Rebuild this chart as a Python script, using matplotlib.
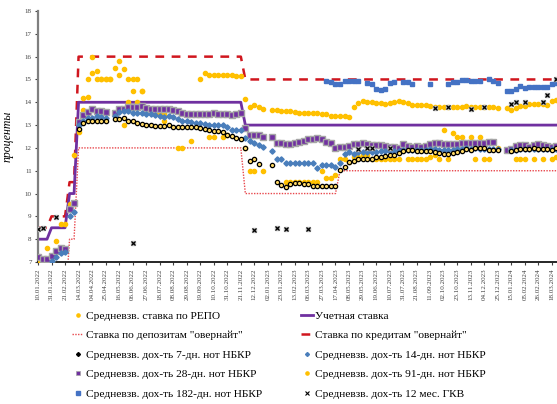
import numpy as np
import pandas as pd
import matplotlib
matplotlib.use("Agg")
import matplotlib.pyplot as plt
from matplotlib.lines import Line2D

nan = np.nan
plt.rcParams['font.family'] = ['Liberation Serif', 'DejaVu Serif']

# weekly observation dates (10.01.2022 ... 25.03.2024)
dates = pd.date_range("2022-01-10", periods=116, freq="7D")

discount = [8, 8, 8, 8.5, 8.5, 8.5, 8.5, 10, 10, 14,
            14, 14, 14, 14, 14, 14, 14, 14, 14, 14,
            14, 14, 14, 14, 14, 14, 14, 14, 14, 14,
            14, 14, 14, 14, 14, 14, 14, 14, 14, 14,
            14, 14, 14, 14, 14, 14, 13, 13, 13, 13,
            13, 13, 13, 13, 13, 13, 13, 13, 13, 13,
            13, 13, 13, 13, 13, 13, 13, 13, 13, 13,
            13, 13, 13, 13, 13, 13, 13, 13, 13, 13,
            13, 13, 13, 13, 13, 13, 13, 13, 13, 13,
            13, 13, 13, 13, 13, 13, 13, 13, 13, 13,
            13, 13, 13, 13, 13, 13, 13, 13, 13, 13,
            13, 13, 13, 13, 13, 13]

credit_on = [8.5, 8.5, 8.5, 9, 9, 9, 9, 10.5, 10.5, 16,
             16, 16, 16, 16, 16, 16, 16, 16, 16, 16,
             16, 16, 16, 16, 16, 16, 16, 16, 16, 16,
             16, 16, 16, 16, 16, 16, 16, 16, 16, 16,
             16, 16, 16, 16, 16, 16, 15, 15, 15, 15,
             15, 15, 15, 15, 15, 15, 15, 15, 15, 15,
             15, 15, 15, 15, 15, 15, 15, 15, 15, 15,
             15, 15, 15, 15, 15, 15, 15, 15, 15, 15,
             15, 15, 15, 15, 15, 15, 15, 15, 15, 15,
             15, 15, 15, 15, 15, 15, 15, 15, 15, 15,
             15, 15, 15, 15, 15, 15, 15, 15, 15, 15,
             15, 15, 15, 15, 15, 15]

deposit_on = [5, 5, 5, 5, 5, 5, 5, 8, 8, 12,
              12, 12, 12, 12, 12, 12, 12, 12, 12, 12,
              12, 12, 12, 12, 12, 12, 12, 12, 12, 12,
              12, 12, 12, 12, 12, 12, 12, 12, 12, 12,
              12, 12, 12, 12, 12, 12, 10, 10, 10, 10,
              10, 10, 10, 10, 10, 10, 10, 10, 10, 10,
              10, 10, 10, 10, 10, 10, 10, 11, 11, 11,
              11, 11, 11, 11, 11, 11, 11, 11, 11, 11,
              11, 11, 11, 11, 11, 11, 11, 11, 11, 11,
              11, 11, 11, 11, 11, 11, 11, 11, 11, 11,
              11, 11, 11, 11, 11, 11, 11, 11, 11, 11,
              11, 11, 11, 11, 11, 11]

repo = [7.0, nan, 7.6, 7.0, 7.93, 8.67, 8.67, 9.53, 11.68, 12.7,
        13.67, 14.25, 16.0, 15.0, 15.0, 15.0, 15.0, 15.52, 15.82, 13.0,
        14.0, 15.0, 14.0, 14.51, nan, nan, nan, 13.5, 13.5, nan,
        nan, 12.0, 12.0, nan, 12.3, nan, nan, nan, 12.5, 12.5,
        nan, 12.5, 12.55, nan, nan, nan, 12.0, 11.0, 11.0, nan,
        11.0, nan, nan, nan, nan, 10.5, 10.5, 10.5, 10.5, 10.5,
        10.5, 10.5, 10.5, 11.0, 10.7, 10.66, 10.83, 11.5, 11.5, 11.4,
        11.62, 11.62, 11.68, 11.69, 11.5, 11.5, 11.5, 11.5, 11.5, 11.5,
        11.5, nan, 11.5, 11.5, 11.5, 11.5, 11.5, 11.6, 11.7, 11.5,
        12.78, 11.5, 12.67, 12.5, 12.5, 12.0, 12.5, 11.5, 12.47, 11.5,
        11.5, nan, 12.0, nan, nan, nan, 11.5, 11.5, 11.5, nan,
        11.5, nan, 11.5, nan, 11.5, 11.6]

n7 = [nan, nan, nan, nan, nan, nan, nan, nan, nan, 12.83,
      13.1, 13.18, 13.2, 13.2, 13.18, 13.18, nan, 13.27, 13.27, 13.3,
      13.2, 13.2, 13.1, 13.04, 13.0, 13.0, 12.98, 12.96, 12.95, 13.0,
      12.93, 12.93, 12.9, 12.9, 12.9, 12.9, 12.88, 12.85, 12.8, 12.75,
      12.72, 12.68, 12.55, 12.52, 12.45, 12.38, 12.01, 11.44, 11.5, 11.31,
      nan, nan, 11.24, 10.51, 10.36, 10.29, 10.4, 10.45, 10.46, 10.42,
      10.4, 10.34, 10.34, 10.34, 10.32, 10.32, 10.32, 11.04, 11.18, 11.37,
      11.42, 11.5, 11.52, 11.52, 11.52, 11.6, 11.62, 11.65, 11.67, 11.69,
      11.77, 11.85, 11.91, 11.91, 11.88, 11.88, 11.87, 11.86, 11.81, 11.78,
      11.74, 11.74, 11.76, 11.8, 11.85, 11.96, 11.93, 12.0, 12.0, 12.0,
      11.93, 11.93, 11.9, nan, nan, 11.85, 11.92, 11.96, 11.95, 11.96,
      11.99, 11.96, 11.96, 11.96, 11.92, 11.99]

n14 = [nan, nan, nan, 7.05, 7.22, 7.4, 7.45, 9.03, 9.18, 13.0,
       13.2, 13.3, 13.3, 13.4, 13.35, 13.3, nan, 13.4, 13.56, 13.6,
       13.6, 13.55, 13.53, 13.53, 13.47, 13.47, 13.45, 13.42, 13.35, 13.38,
       13.35, 13.27, 13.2, 13.2, 13.15, 13.1, 13.1, 13.04, 13.0, 13.0,
       13.0, 13.0, 12.93, 12.79, 12.79, 12.79, 12.42, 12.32, 12.23, 12.11,
       12.02, nan, 11.88, 11.5, 11.5, 11.36, 11.36, 11.34, 11.34, 11.34,
       11.34, 11.34, 11.14, 11.27, 11.27, 11.27, 11.18, 11.32, 11.72, 11.84,
       11.74, 11.8, 11.8, 11.84, 11.84, 11.84, 11.85, 11.85, 11.85, 11.88,
       11.88, 11.92, 11.9, 11.92, 11.9, 11.92, 11.93, 11.95, 11.95, 11.93,
       11.92, 11.92, 11.93, 11.95, 11.97, 11.98, 11.97, 11.98, 11.97, 11.96,
       11.96, 11.95, 11.94, nan, nan, 11.9, 11.93, 11.95, 11.96, 11.96,
       11.97, 11.96, 11.95, 11.95, 11.94, 11.96]

n28 = [7.2, 7.13, 7.13, 7.26, 7.5, 7.6, 7.58, 9.34, 9.6, 13.15,
       13.45, 13.58, 13.72, 13.62, 13.62, 13.58, nan, 13.55, 13.7, 13.7,
       13.8, 13.8, 13.8, 13.85, 13.75, 13.72, 13.72, 13.7, 13.7, 13.7,
       13.68, 13.6, 13.52, 13.48, 13.5, 13.5, 13.5, 13.5, 13.5, 13.52,
       13.5, 13.5, 13.5, 13.45, 13.5, 13.52, 12.89, 12.58, 12.58, 12.58,
       12.5, nan, 12.46, 12.2, 12.2, 12.15, 12.15, 12.2, 12.25, 12.3,
       12.38, 12.38, 12.42, 12.38, 12.28, 12.2, 12.01, 12.04, 12.04, 12.08,
       12.15, 12.19, 12.2, 12.15, 12.12, 12.12, 12.12, 12.1, 12.05, 12.05,
       12.0, 12.15, 12.1, 12.05, 12.1, 12.05, 12.1, 12.15, 12.2, 12.2,
       12.15, 12.15, 12.15, 12.15, 12.2, 12.22, 12.22, 12.2, 12.2, 12.2,
       12.25, 12.25, nan, nan, 11.9, 11.95, 12.1, 12.12, 12.12, 12.05,
       12.12, 12.15, 12.12, 12.1, 12.05, 12.1]

n91 = [nan, nan, nan, nan, nan, nan, nan, nan, nan, nan,
       14.18, 15.0, 15.3, 15.37, 15.0, 15.0, 15.0, nan, 15.19, 15.45,
       15.0, 14.51, 15.0, 14.51, nan, nan, 13.5, 13.5, 13.2, nan,
       nan, nan, nan, nan, nan, nan, 15.0, 15.3, 15.2, 15.2,
       15.2, 15.2, 15.2, 15.2, 15.13, 15.13, 14.13, 13.78, 13.86, 13.8,
       13.72, nan, 13.67, 13.67, 13.62, 13.62, 13.62, 13.59, 13.55, 13.55,
       13.52, 13.52, 13.52, 13.49, 13.49, 13.42, 13.42, 13.42, 13.42, 13.37,
       13.78, 13.96, 14.04, 14.0, 14.0, 13.96, 13.96, 13.92, 13.96, 14.0,
       14.04, 14.0, 13.96, 13.89, 13.89, 13.89, 13.89, 13.84, 13.8, 13.8,
       13.8, 13.8, 13.8, 13.8, 13.8, 13.84, 13.8, 13.78, 13.78, 13.8,
       13.8, 13.78, 13.74, nan, 13.74, 13.67, 13.74, 13.84, 13.84, 13.92,
       13.92, 13.92, 13.92, 13.89, 14.04, 14.1]

n182 = [nan] * 64 + [14.95, 14.9, 14.8, 14.8, 14.94, 14.94, 14.94, 14.94, nan, 14.85,
                      14.78, 14.59, 14.54, 14.59, 14.86, 14.9, nan, 14.9, 14.88, 14.8,
                      nan, nan, nan, 14.8, nan, nan, nan, 14.8, 14.88, 14.9,
                      14.97, 14.97, 14.92, 14.92, 14.92, nan, 15.0, 14.95, 14.85, nan,
                      14.5, 14.5, 14.57, 14.7, 14.62, 14.67, 14.67, 14.67, 14.67, 14.67,
                      14.8, 14.85]

gkv = [8.45, 8.5, nan, nan, 8.96, nan, nan, nan, nan, nan,
       nan, nan, nan, nan, nan, nan, nan, nan, nan, nan,
       nan, 7.83, nan, nan, nan, nan, nan, nan, nan, nan,
       nan, nan, nan, nan, nan, nan, nan, nan, nan, nan,
       nan, nan, nan, nan, nan, nan, nan, nan, 8.4, nan,
       nan, nan, nan, 8.48, nan, 8.45, nan, nan, nan, nan,
       8.44, nan, nan, nan, nan, nan, nan, nan, nan, nan,
       nan, 11.94, nan, 12.01, 12.01, nan, nan, nan, 12.01, nan,
       nan, nan, nan, nan, nan, nan, nan, nan, 13.76, nan,
       nan, 13.8, nan, nan, nan, nan, 13.7, nan, nan, 13.8,
       nan, nan, nan, nan, nan, 13.92, 14.01, nan, 14.01, nan,
       nan, nan, 14.01, 14.3, nan, 15.03]

labels = ["Средневзв. ставка по РЕПО", "Учетная ставка",
          "Ставка по депозитам \"овернайт\"", "Ставка по кредитам \"овернайт\"",
          "Средневзв. дох-ть 7-дн. нот НБКР", "Средневзв. дох-ть 14-дн. нот НБКР",
          "Средневзв. дох-ть 28-дн. нот НБКР", "Средневзв. дох-ть 91-дн. нот НБКР",
          "Средневзв. дох-ть 182-дн. нот НБКР", "Средневзв. дох-ть 12 мес. ГКВ"]

W, H = 557, 404
fig = plt.figure(figsize=(W / 100, H / 100), dpi=100)
ax = fig.add_axes([38 / W, 1 - 262 / H, (557 - 38) / W, (262 - 11) / H])

YEL = '#FFC000'
PUR = '#7030A0'

ax.plot(dates, deposit_on, color='#E8474C', lw=1.0, ls=(0, (1, 1)), zorder=2)
ax.plot(dates, credit_on, color='#D0161E', lw=1.8, ls=(0, (3.5, 3)), zorder=2)
ax.plot(dates, discount, color=PUR, lw=2.0, zorder=2)

ax.plot(dates, n182, ls='none', marker='s', ms=3.3, mfc='#4472C4', mec='#4472C4', zorder=3)
ax.plot(dates, n91, ls='none', marker='o', ms=3.0, mfc=YEL, mec=YEL, zorder=3)
ax.plot(dates, repo, ls='none', marker='o', ms=3.0, mfc=YEL, mec=YEL, zorder=3)
ax.plot(dates, n28, ls='none', marker='s', ms=4.3, mfc=PUR, mec='#A6A6A6', mew=1.0, zorder=4)
ax.plot(dates, n14, ls='none', marker='D', ms=2.7, mfc='#4A7EBB', mec='#4A7EBB', zorder=5)
ax.plot(dates, n7, ls='none', marker='o', ms=3.1, mfc='#FFD966', mec='black', mew=0.9, zorder=6)
ax.plot(dates, gkv, ls='none', marker='s', ms=3.4, mfc='#BFBFBF', mec='#BFBFBF', zorder=6)
ax.plot(dates, gkv, ls='none', marker='x', ms=2.5, mec='black', mew=0.9, zorder=7)

ax.set_ylim(7, 18)
ax.set_yticks(range(7, 19))
ax.set_xlim(dates[0], dates[115] + pd.Timedelta(days=1))
tick_dates = dates[::3]
ax.set_xticks(tick_dates)
ax.set_xticklabels([d.strftime('%d.%m.%Y') for d in tick_dates], rotation=90, fontsize=5)
ax.tick_params(axis='y', labelsize=5, length=2.5, width=0.8, pad=2, colors='#404040')
ax.tick_params(axis='x', length=2.5, width=0.8, pad=2, colors='#404040')
for s in ['top', 'right']:
    ax.spines[s].set_visible(False)
ax.spines['left'].set_color('#7F7F7F')
ax.spines['left'].set_linewidth(1.6)
ax.spines['bottom'].set_color('#262626')
ax.spines['bottom'].set_linewidth(1.4)
ax.set_ylabel('проценты', fontsize=8.5, style='italic', labelpad=8)

# legend (column-major order for 2 columns)
mk = dict(ls='none')
L_repo = Line2D([], [], marker='o', ms=2.3, mfc=YEL, mec=YEL, **mk)
L_disc = Line2D([], [], color=PUR, lw=2.0)
L_dep = Line2D([], [], color='#E8474C', lw=1.0, ls=(0, (1, 1)))
L_cred = Line2D([], [], color='#D0161E', lw=1.8, ls=(0, (3.5, 3)))
L_7 = Line2D([], [], marker='D', ms=2.0, mfc='black', mec='black', **mk)
L_14 = Line2D([], [], marker='D', ms=2.0, mfc='#4A7EBB', mec='#4A7EBB', **mk)
L_28 = Line2D([], [], marker='s', ms=2.4, mfc=PUR, mec='#A6A6A6', mew=0.5, **mk)
L_91 = Line2D([], [], marker='o', ms=2.3, mfc=YEL, mec=YEL, **mk)
L_182 = Line2D([], [], marker='s', ms=2.3, mfc='#4472C4', mec='#4472C4', **mk)
L_gkv = Line2D([], [], marker='x', ms=2.3, mec='black', mew=0.8, **mk)

handles = [L_repo, L_dep, L_7, L_28, L_182, L_disc, L_cred, L_14, L_91, L_gkv]
order = [0, 2, 4, 6, 8, 1, 3, 5, 7, 9]
fig.legend(handles, [labels[k] for k in order], ncol=2, loc='upper left',
           bbox_to_anchor=(72 / W, 1 - 311 / H), frameon=False, fontsize=8.2,
           handlelength=1.0, handletextpad=0.25, columnspacing=3.4, labelspacing=0.83,
           borderaxespad=0, borderpad=0)

fig.savefig('out.png', dpi=100)
